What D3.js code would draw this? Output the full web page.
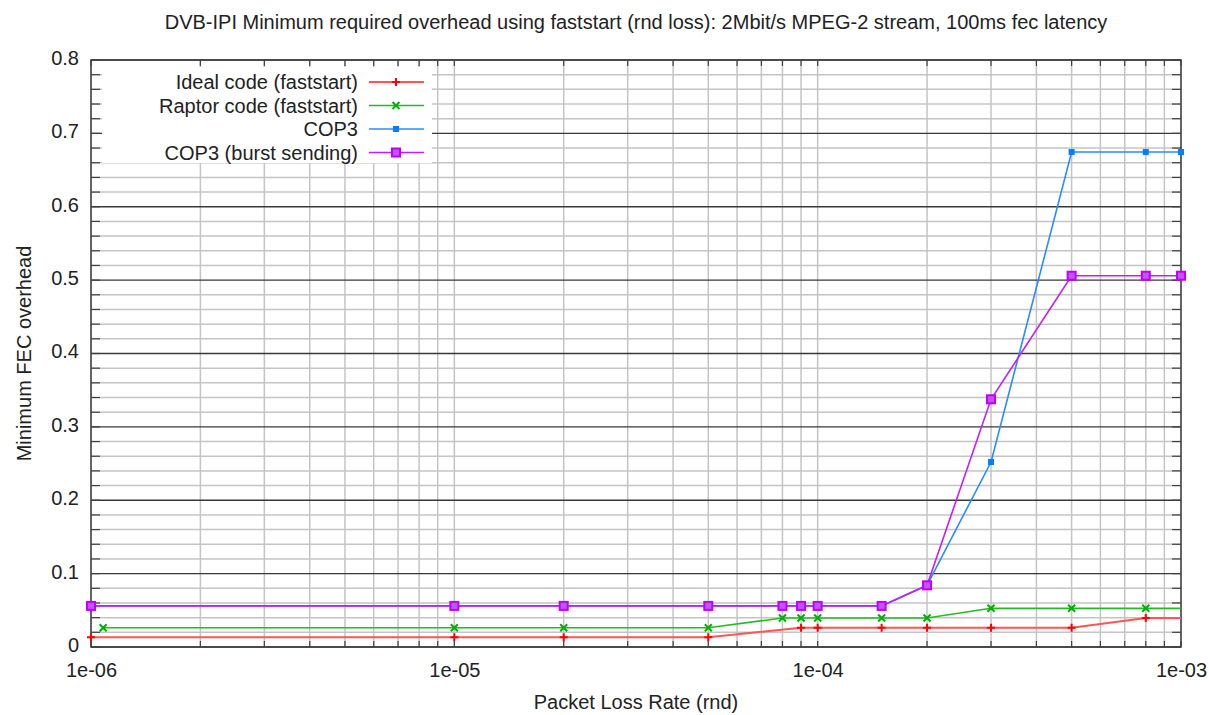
<!DOCTYPE html>
<html>
<head>
<meta charset="utf-8">
<script src="https://cdn.jsdelivr.net/npm/d3@7"></script>
<style>
  body { margin: 0; background: #fff; }
  text { font-family: "Liberation Sans", Arial, sans-serif; fill: #222; }
</style>
</head>
<body>
<div id="chart"></div>
<script>
// Packet loss rates (x) for each series
const idealX  = [1e-6, 1e-5, 2e-5, 5e-5, 9e-5, 1e-4, 1.5e-4, 2e-4, 3e-4, 5e-4, 8e-4, 1.3e-3];
const raptorX = [1.08e-6, 1e-5, 2e-5, 5e-5, 8e-5, 9e-5, 1e-4, 1.5e-4, 2e-4, 3e-4, 5e-4, 8e-4, 1.3e-3];
const cop3X   = [1e-6, 1e-5, 2e-5, 5e-5, 8e-5, 9e-5, 1e-4, 1.5e-4, 2e-4, 3e-4, 5e-4, 8e-4, 1e-3];

// Minimum FEC overhead values
const idealY  = [0.0132, 0.0132, 0.0132, 0.0132, 0.0263, 0.0263, 0.0263, 0.0263, 0.0263, 0.0263, 0.0395, 0.0395];
const raptorY = [0.0263, 0.0263, 0.0263, 0.0263, 0.0395, 0.0395, 0.0395, 0.0395, 0.0395, 0.0527, 0.0527, 0.0527, 0.0527];
const cop3Y   = [0.056, 0.056, 0.056, 0.056, 0.056, 0.056, 0.056, 0.056, 0.0841, 0.2521, 0.6746, 0.6746, 0.6746];
const burstY  = [0.056, 0.056, 0.056, 0.056, 0.056, 0.056, 0.056, 0.056, 0.0841, 0.3376, 0.506, 0.506, 0.506];

const seriesNames = ["Ideal code (faststart)", "Raptor code (faststart)", "COP3", "COP3 (burst sending)"];

const xTickValues = [1e-6, 1e-5, 1e-4, 1e-3];
const xTickLabels = ["1e-06", "1e-05", "1e-04", "1e-03"];
const yTickValues = [0, 0.1, 0.2, 0.3, 0.4, 0.5, 0.6, 0.7, 0.8];
const yTickLabels = ["0", "0.1", "0.2", "0.3", "0.4", "0.5", "0.6", "0.7", "0.8"];

const titleText = "DVB-IPI Minimum required overhead using faststart (rnd loss): 2Mbit/s MPEG-2 stream, 100ms fec latency";
const xTitle = "Packet Loss Rate (rnd)";
const yTitle = "Minimum FEC overhead";

const W = 1209, H = 715;
const margin = { top: 60, right: 28, bottom: 68, left: 91 };
const fs = "20px";

const svg = d3.select("#chart").append("svg")
  .attr("width", W).attr("height", H);

svg.append("rect").attr("width", W).attr("height", H).attr("fill", "#fff");

const x = d3.scaleLog().domain([1e-6, 1e-3]).range([margin.left, W - margin.right]);
const y = d3.scaleLinear().domain([0, 0.8]).range([H - margin.bottom, margin.top]);

const x0 = x.range()[0], x1 = x.range()[1];
const y0 = y.range()[0], y1 = y.range()[1];

// minor tick positions
const xMinor = x.ticks();
const yMinor = d3.range(0, 41).map(i => i * 0.02);

// grid
const grid = svg.append("g");
grid.selectAll(".hmin").data(yMinor.filter((d, i) => i % 5 !== 0))
  .join("line")
  .attr("x1", x0).attr("x2", x1)
  .attr("y1", d => y(d)).attr("y2", d => y(d))
  .attr("stroke", "#c4c4c4").attr("stroke-width", 1.5);
grid.selectAll(".v").data(xMinor)
  .join("line")
  .attr("x1", d => x(d)).attr("x2", d => x(d))
  .attr("y1", y0).attr("y2", y1)
  .attr("stroke", "#c4c4c4").attr("stroke-width", 1.5);
grid.selectAll(".hmaj").data(yTickValues)
  .join("line")
  .attr("x1", x0).attr("x2", x1)
  .attr("y1", d => y(d)).attr("y2", d => y(d))
  .attr("stroke", "#383838").attr("stroke-width", 1.3);

// ticks on all four sides (pointing inward)
const ticks = svg.append("g").attr("stroke", "#404040").attr("stroke-width", 1.2);
ticks.selectAll(".tb").data(xMinor).join("line")
  .attr("x1", d => x(d)).attr("x2", d => x(d)).attr("y1", y0).attr("y2", y0 - 6);
ticks.selectAll(".tt").data(xMinor).join("line")
  .attr("x1", d => x(d)).attr("x2", d => x(d)).attr("y1", y1).attr("y2", y1 + 6);
ticks.selectAll(".tl").data(yMinor).join("line")
  .attr("x1", x0).attr("x2", x0 + 9).attr("y1", d => y(d)).attr("y2", d => y(d));
ticks.selectAll(".tr").data(yMinor).join("line")
  .attr("x1", x1).attr("x2", x1 - 9).attr("y1", d => y(d)).attr("y2", d => y(d));

// legend background (opaque)
svg.append("rect")
  .attr("x", 102).attr("y", 67).attr("width", 330).attr("height", 96)
  .attr("fill", "#fff");

// border
svg.append("rect")
  .attr("x", x0).attr("y", y1).attr("width", x1 - x0).attr("height", y0 - y1)
  .attr("fill", "none").attr("stroke", "#404040").attr("stroke-width", 1.5);

// axis labels
svg.append("g")
  .attr("transform", `translate(0,${y0})`)
  .call(d3.axisBottom(x).tickValues(xTickValues)
    .tickFormat((d, i) => xTickLabels[i]).tickSize(0).tickPadding(16))
  .call(g => g.select(".domain").remove())
  .selectAll("text")
  .style("font-size", fs).attr("fill", "#222");

svg.append("g")
  .attr("transform", `translate(${x0},0)`)
  .call(d3.axisLeft(y).tickValues(yTickValues)
    .tickFormat((d, i) => yTickLabels[i]).tickSize(0).tickPadding(12))
  .call(g => g.select(".domain").remove())
  .selectAll("text")
  .style("font-size", fs).attr("fill", "#222").attr("dy", "0.22em");

// titles
svg.append("text")
  .attr("x", (x0 + x1) / 2).attr("y", 29)
  .attr("text-anchor", "middle").style("font-size", fs)
  .text(titleText);

svg.append("text")
  .attr("x", (x0 + x1) / 2).attr("y", 709)
  .attr("text-anchor", "middle").style("font-size", fs)
  .text(xTitle);

svg.append("text")
  .attr("transform", `translate(31,${(y0 + y1) / 2}) rotate(-90)`)
  .attr("text-anchor", "middle").style("font-size", fs)
  .text(yTitle);

// series
const series = [
  { name: seriesNames[0], xs: idealX,  ys: idealY,  line: "#ff5555", mark: "#ff0000", lw: 2, type: "plus" },
  { name: seriesNames[1], xs: raptorX, ys: raptorY, line: "#22bb22", mark: "#00b000", lw: 1.6, type: "cross" },
  { name: seriesNames[2], xs: cop3X,   ys: cop3Y,   line: "#2a8cff", mark: "#0080ff", lw: 1.6, type: "fsquare" },
  { name: seriesNames[3], xs: cop3X,   ys: burstY,  line: "#c020ff", mark: "#c000ff", lw: 1.6, type: "square" }
];

svg.append("clipPath").attr("id", "clip")
  .append("rect").attr("x", x0).attr("y", y1 - 10)
  .attr("width", x1 - x0).attr("height", y0 - y1 + 20);

const line = d3.line().x(d => x(d[0])).y(d => y(d[1]));

function drawMarker(g, type, color) {
  if (type === "plus") {
    g.append("path").attr("d", "M-4,0H4M0,-4V4")
      .attr("stroke", color).attr("stroke-width", 2).attr("fill", "none");
  } else if (type === "cross") {
    g.append("path").attr("d", "M-3.5,-3.5L3.5,3.5M-3.5,3.5L3.5,-3.5")
      .attr("stroke", color).attr("stroke-width", 2).attr("fill", "none");
  } else if (type === "fsquare") {
    g.append("rect").attr("x", -3).attr("y", -3).attr("width", 6).attr("height", 6)
      .attr("fill", color);
  } else {
    g.append("rect").attr("x", -4).attr("y", -4).attr("width", 8).attr("height", 8)
      .attr("fill", "#c850ff").attr("stroke", color).attr("stroke-width", 2);
  }
}

const plot = svg.append("g");
series.forEach(s => {
  const pts = s.xs.map((d, i) => [d, s.ys[i]]);
  plot.append("path")
    .datum(pts)
    .attr("clip-path", "url(#clip)")
    .attr("d", line)
    .attr("fill", "none")
    .attr("stroke", s.line)
    .attr("stroke-width", s.lw);
  pts.filter(p => p[0] <= 1e-3).forEach(p => {
    const g = plot.append("g").attr("transform", `translate(${x(p[0])},${y(p[1])})`);
    drawMarker(g, s.type, s.mark);
  });
});

// legend
const legend = svg.append("g");
series.forEach((s, i) => {
  const ly = 82 + i * 23.5;
  legend.append("text")
    .attr("x", 358).attr("y", ly).attr("dy", "0.35em")
    .attr("text-anchor", "end").style("font-size", fs)
    .text(s.name);
  legend.append("line")
    .attr("x1", 369).attr("x2", 424).attr("y1", ly).attr("y2", ly)
    .attr("stroke", s.line).attr("stroke-width", s.lw);
  const g = legend.append("g").attr("transform", `translate(396,${ly})`);
  drawMarker(g, s.type, s.mark);
});
</script>
</body>
</html>
